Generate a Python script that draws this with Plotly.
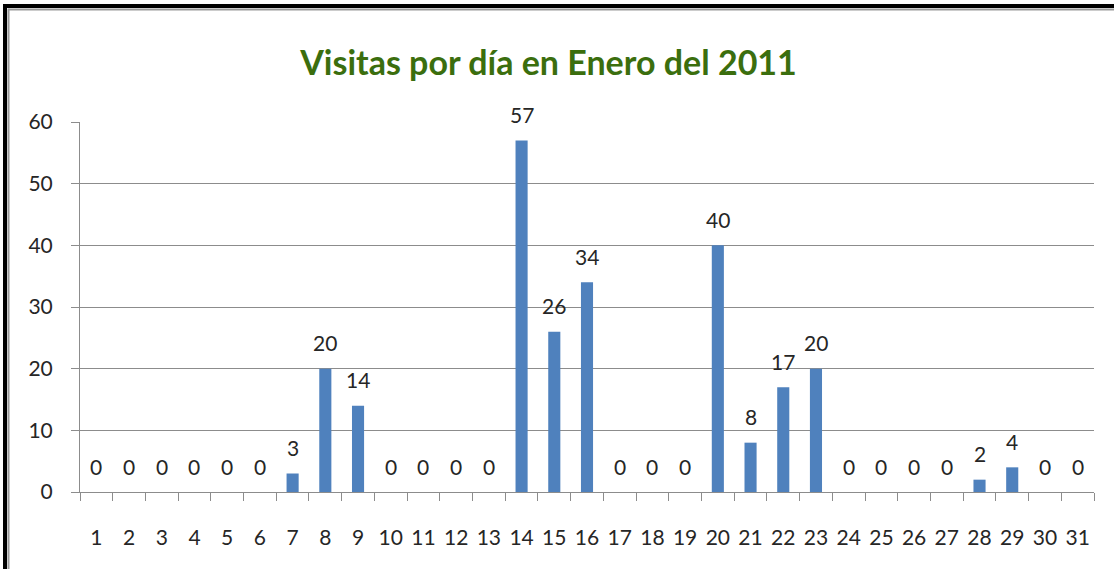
import plotly.graph_objects as go

days = [str(d) for d in range(1, 32)]
visits = [0, 0, 0, 0, 0, 0, 3, 20, 14, 0, 0, 0, 0, 57, 26, 34, 0, 0, 0,
          40, 8, 17, 20, 0, 0, 0, 0, 2, 4, 0, 0]
y_ticks = [0, 10, 20, 30, 40, 50, 60]
title_text = "Visitas por día en Enero del 2011"

W, H = 1114, 569
L, R, T, B = 80, 20, 122, 77
pw = W - L - R
ph = H - T - B


def px_x(px):
    return (px - L) / pw


def px_y(py):
    return (H - B - py) / ph


FONT = "Lato"
TXT = "#262626"

fig = go.Figure()
fig.add_trace(go.Bar(
    x=days, y=visits,
    marker=dict(color="#4F81BD", line=dict(width=0)),
    hoverinfo="x+y",
))

for i, v in enumerate(visits):
    fig.add_annotation(x=i, y=v, text=str(v), showarrow=False,
                       xref="x", yref="y", yanchor="middle", yshift=26,
                       font=dict(family=FONT, size=21, color=TXT))

shapes = []
# black outer frame (left + top)
shapes.append(dict(type="line", xref="paper", yref="paper",
                   x0=px_x(5), x1=px_x(1200), y0=px_y(6), y1=px_y(6),
                   line=dict(color="black", width=4)))
shapes.append(dict(type="line", xref="paper", yref="paper",
                   x0=px_x(5), x1=px_x(5), y0=px_y(4), y1=px_y(700),
                   line=dict(color="black", width=4)))
# inner gray frame
shapes.append(dict(type="line", xref="paper", yref="paper",
                   x0=px_x(8.5), x1=px_x(1200), y0=px_y(9.5), y1=px_y(9.5),
                   line=dict(color="#9a9a9a", width=2)))
shapes.append(dict(type="line", xref="paper", yref="paper",
                   x0=px_x(8.5), x1=px_x(8.5), y0=px_y(8.5), y1=px_y(700),
                   line=dict(color="#9a9a9a", width=2)))

fig.update_layout(
    width=W, height=H,
    margin=dict(l=L, r=R, t=T, b=B, pad=0),
    paper_bgcolor="white", plot_bgcolor="white",
    bargap=0.63,
    showlegend=False,
    shapes=shapes,
    title=dict(text="<b>" + title_text + "</b>", x=548.5 / W, xanchor="center",
               y=1 - 63 / H, yanchor="middle", yref="container",
               font=dict(family=FONT, size=34, color="#3B6E0E")),
    xaxis=dict(type="category", tickson="boundaries", ticks="outside", ticklen=8,
               tickcolor="#8c8c8c", showline=True, linecolor="#8c8c8c", linewidth=1,
               showgrid=False, tickangle=0,
               tickfont=dict(family=FONT, size=21, color=TXT),
               ticklabelstandoff=27, fixedrange=True),
    yaxis=dict(range=[0, 60], tickvals=y_ticks, ticks="outside", ticklen=8,
               tickcolor="#8c8c8c", showline=True, linecolor="#8c8c8c", linewidth=1,
               showgrid=True, gridcolor="#8c8c8c", gridwidth=1, zeroline=False,
               tickfont=dict(family=FONT, size=21, color=TXT),
               ticklabelstandoff=14, fixedrange=True),
)

fig.write_html("out.html", config={"displayModeBar": False},
               post_script="document.body.style.margin='0';document.body.style.overflow='hidden';")
